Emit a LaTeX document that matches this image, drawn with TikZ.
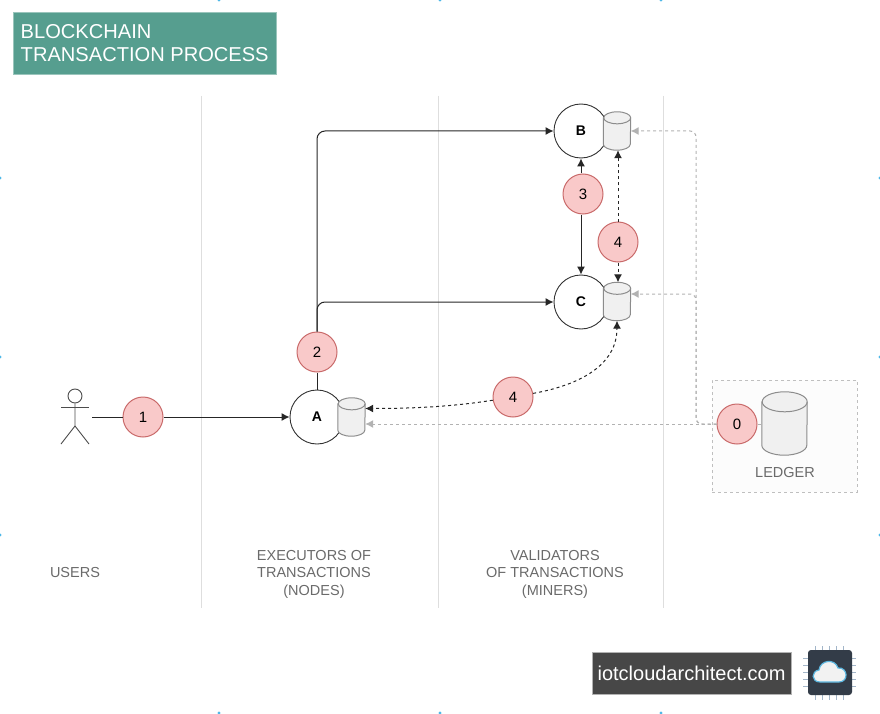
\documentclass[tikz,border=0pt]{standalone}
\usepackage{fontspec}
\setmainfont{Liberation Sans}
\usetikzlibrary{arrows.meta}
\definecolor{badgefill}{HTML}{F9C9C9}
\definecolor{badgeline}{HTML}{C96A6A}
\definecolor{titlefill}{HTML}{569E8F}
\definecolor{labelgrey}{HTML}{6A6A6A}
\definecolor{chipfill}{HTML}{333C48}
\definecolor{chippin}{HTML}{A3B6C9}
\definecolor{cloudline}{HTML}{5DB7E0}
\definecolor{edgemark}{HTML}{4FB8E8}
\tikzset{
  peer/.style={circle, draw=black!80, fill=white, line width=0.9pt, minimum size=54pt, inner sep=0pt, font=\fontsize{14}{14}\selectfont\bfseries},
  drum/.style={draw=black!45, fill=black!6, line width=1pt},
  badge/.style={circle, draw=badgeline, fill=badgefill, line width=1pt, minimum size=40pt, inner sep=0pt, font=\fontsize{15}{15}\selectfont},
  caption/.style={text=labelgrey, align=center, font=\fontsize{14.5}{17.5}\selectfont},
  lane/.style={draw=black!13, line width=0.8pt},
  tie/.style={draw=black!85, line width=1pt},
  flow/.style={-{Latex[length=8pt,width=8pt]}, draw=black!85, line width=1pt},
  sync/.style={-{Latex[length=8pt,width=8pt]}, draw=black!85, dashed, line width=1pt},
  feed/.style={-{Latex[length=8pt,width=8pt]}, draw=black!30, dashed, line width=1pt}
}
% nombre, x, y, ancho, alto, radio de la tapa
\newcommand{\storedrum}[6]{
  \node[minimum width=#4pt, minimum height=#5pt, inner sep=0pt] (#1) at (#2,#3) {};
  \path[drum] ([yshift=-#6pt]#1.north west) -- ([yshift=#6pt]#1.south west)
    arc[start angle=180, end angle=360, x radius=#4pt/2, y radius=#6pt]
    -- ([yshift=-#6pt]#1.north east)
    arc[start angle=0, end angle=180, x radius=#4pt/2, y radius=#6pt] -- cycle;
  \draw[drum, fill=none] ([yshift=-#6pt]#1.north east)
    arc[start angle=0, end angle=-180, x radius=#4pt/2, y radius=#6pt];
}
\begin{document}
\begin{tikzpicture}[x=1pt,y=-1pt]
\useasboundingbox (0,0) rectangle (880,714);
% marcas de borde
\foreach \q in {219,440,661} {
  \fill[edgemark] (\q,0) circle (1.6pt);
  \fill[edgemark] (\q,713) circle (1.6pt);
}
\foreach \q in {178,357,535} {
  \fill[edgemark] (0,\q) circle (1.6pt);
  \fill[edgemark] (880,\q) circle (1.6pt);
}
% carriles
\draw[lane] (201,96) -- (201,608);
\draw[lane] (438,96) -- (438,608);
\draw[lane] (663,96) -- (663,608);
% titulo
\node[draw=titlefill!60, fill=titlefill, text=white, align=left, anchor=north west, minimum width=263pt, minimum height=62pt, inner xsep=6.5pt, inner ysep=0pt, font=\fontsize{20.1}{23}\selectfont] (title) at (13,12) {BLOCKCHAIN\\TRANSACTION PROCESS};
% libro mayor
\node[draw=black!25, dashed, fill=black!1, minimum width=145pt, minimum height=112pt, inner sep=0pt] (ledgerbox) at (784.5,436) {};
\storedrum{ledger}{784.5}{423.5}{45}{63}{10}
\node[caption] (ledgertext) at (785,473) {LEDGER};
% usuario
\coordinate (userout) at (92,417);
\node[circle, draw=black!70, line width=0.9pt, minimum size=14pt, inner sep=0pt] (head) at (75,396) {};
\coordinate (hip) at (75,426);
\draw[draw=black!70, line width=0.9pt] (head) -- (hip) -- (61,444);
\draw[draw=black!70, line width=0.9pt] (hip) -- (89,444);
\draw[draw=black!70, line width=0.9pt] (61,407) -- (89,407);
% nodos
\node[peer] (A) at (317,417) {A};
\node[peer] (B) at (581,131) {B};
\node[peer] (C) at (581,302) {C};
\storedrum{dbA}{351.5}{417}{27}{38}{6}
\storedrum{dbB}{617}{131}{27}{38}{6}
\storedrum{dbC}{617}{301.5}{27}{38}{6}
% pasos
\node[badge] (one) at (143,417) {1};
\node[badge] (two) at (317,352) {2};
\node[badge] (three) at (583,194) {3};
\node[badge] (fourup) at (618,242) {4};
\node[badge] (fourlow) at (513,397) {4};
\node[badge] (zero) at (737,424) {0};
% conexiones
\draw[tie] (userout) -- (one);
\draw[flow] (one) -- (A);
\draw[tie] (A) -- (two);
\draw[flow, rounded corners=8pt] (two) -- (two |- B) -- (B);
\draw[flow, rounded corners=8pt] (two) -- (two |- C) -- (C);
\draw[flow] (three.north -| B) -- (B);
\draw[flow] (three.south -| C) -- (C);
\draw[sync] (fourup) -- (fourup |- dbB.south);
\draw[sync] (fourup) -- (fourup |- dbC.north);
\draw[sync] (fourlow) .. controls (450,407) and (410,408.5) .. (dbA.east |- 0,408.5);
\draw[sync] (fourlow) .. controls (580,385) and (617,365) .. (dbC.south);
\draw[feed] (zero) -- (dbA.east |- zero);
\draw[feed, rounded corners=6pt] (zero) -- (696,424) -- (696,131) -- (dbB);
\draw[feed, rounded corners=6pt] (zero) -- (696,424) -- (696,294) -- (dbC.east |- 0,294);
\draw[draw=black!30, dashed, line width=1pt] (zero) -- (ledger.west |- zero);
% textos
\node[caption] (users) at (75,573) {USERS};
\node[caption] (executors) at (314,574) {EXECUTORS OF\\TRANSACTIONS\\(NODES)};
\node[caption] (validators) at (555,574) {VALIDATORS\\OF TRANSACTIONS\\(MINERS)};
% marca
\node[draw=black!30, fill=black!72, text=white, minimum width=199pt, minimum height=42pt, inner sep=0pt, font=\fontsize{20}{20}\selectfont] (brand) at (691.5,673) {iotcloudarchitect.com};
\foreach \p in {-14,-7,0,7,14} {
  \draw[draw=chippin, line width=1.8pt] (829.5+\p,646) -- (829.5+\p,700);
  \draw[draw=chippin, line width=1.8pt] (803,672.5+\p) -- (856,672.5+\p);
}
\node[rounded corners=3pt, fill=chipfill, minimum width=44pt, minimum height=45pt, inner sep=0pt] (chip) at (830,672.5) {};
\draw[draw=cloudline, fill=white!95!black, line width=1.2pt] (820,682) .. controls (811,682) and (811,671) .. (819,670) .. controls (820,660) and (835,658) .. (838,668) .. controls (848,667) and (849,682) .. (839,682) -- cycle;
\end{tikzpicture}
\end{document}
